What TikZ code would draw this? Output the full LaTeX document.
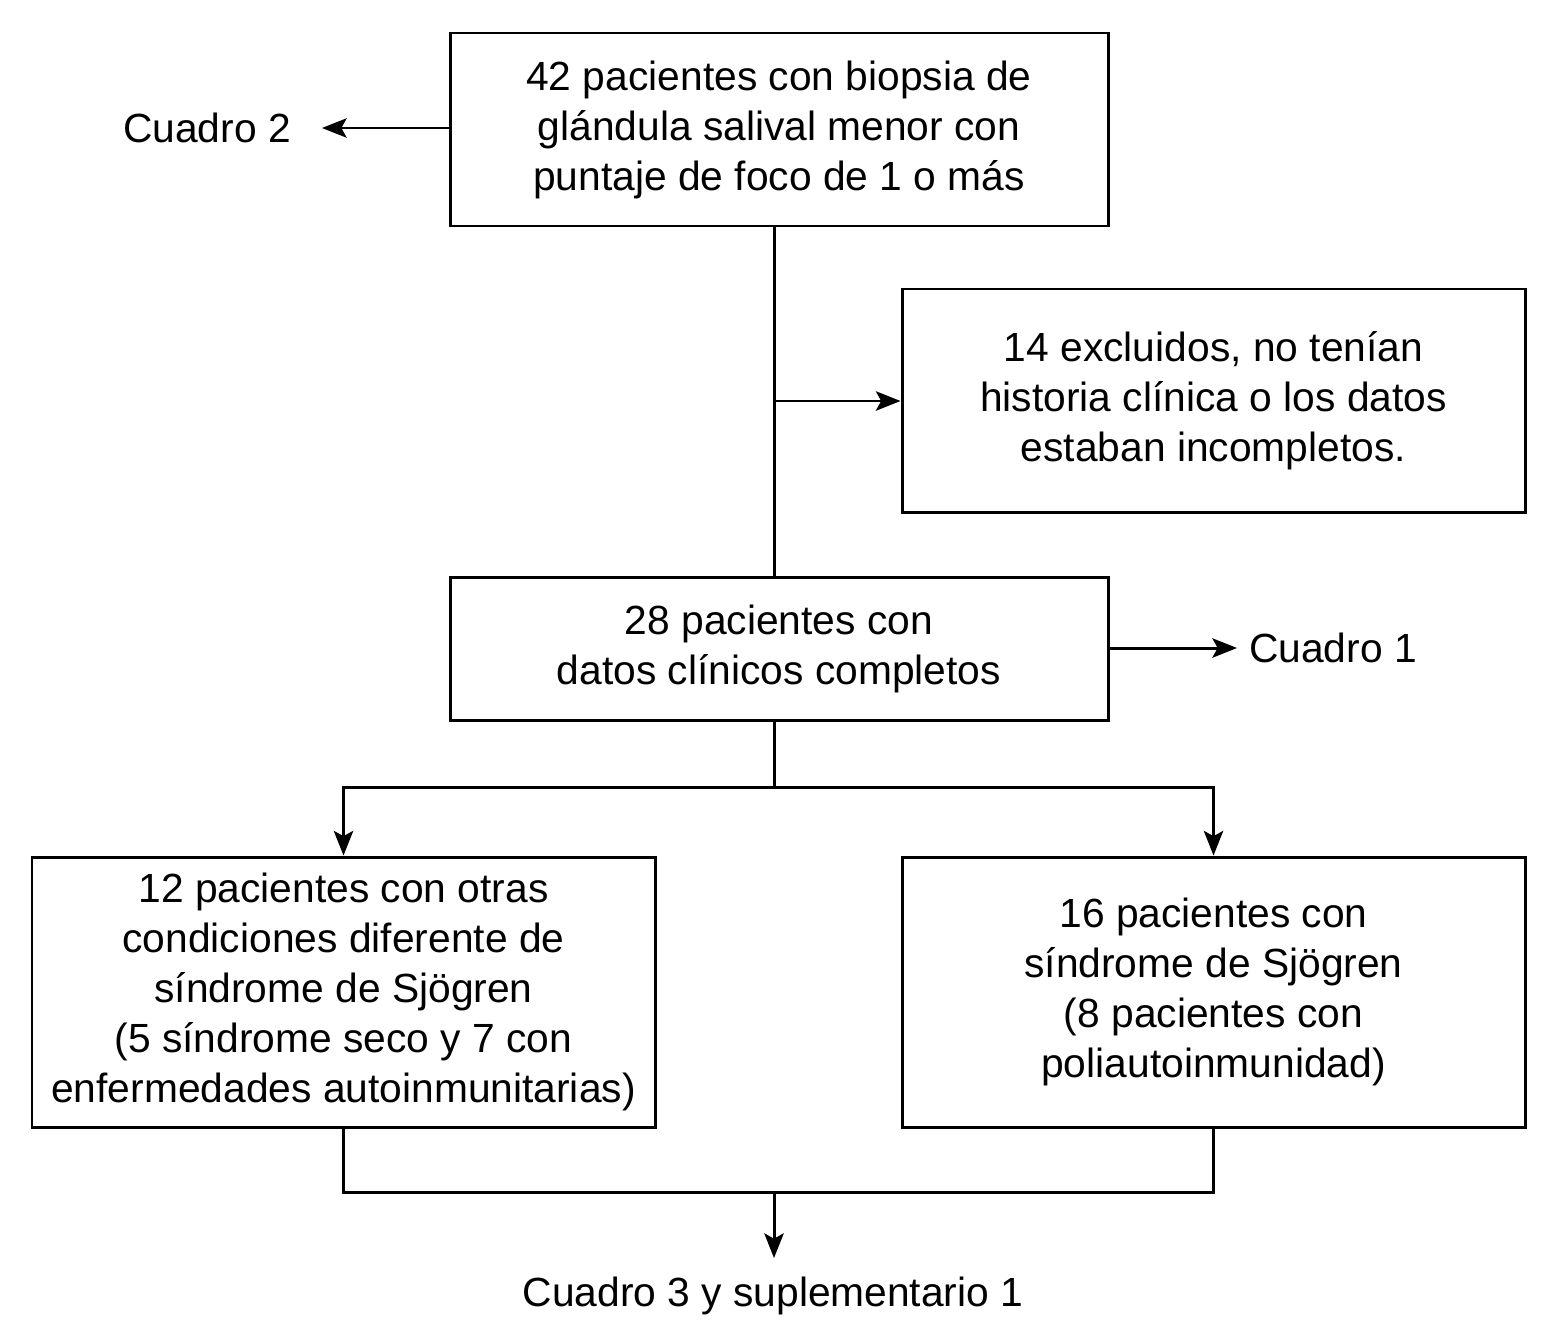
\documentclass[tikz,border=0pt]{standalone}
\usepackage{fontspec}
\setmainfont{Liberation Sans}
\usetikzlibrary{arrows.meta}
\begin{document}
\begin{tikzpicture}[x=0.02cm,y=-0.02cm,
  box/.style={draw,line width=1.7pt,align=center,inner sep=0pt,font=\fontsize{23.2}{28.45}\selectfont},
  lbl/.style={inner sep=0pt,font=\fontsize{23.2}{28.45}\selectfont},
  conn/.style={line width=1.7pt},
  arr/.style={conn,-{Stealth[length=14pt,width=11pt,inset=3pt]}}]
\useasboundingbox (0,0) rectangle (1550,1328);
\node[box,minimum width=658*0.02cm,minimum height=193*0.02cm] (top) at (779,129.5) {42 pacientes con biopsia de\\glándula salival menor con\\puntaje de foco de 1 o más};
\node[box,minimum width=623*0.02cm,minimum height=223*0.02cm] (excl) at (1213.5,400.5) {14 excluidos, no tenían\\historia clínica o los datos\\estaban incompletos.};
\node[box,minimum width=658*0.02cm,minimum height=143*0.02cm] (mid) at (779,648.5) {28 pacientes con\\datos clínicos completos};
\node[box,minimum width=623*0.02cm,minimum height=270*0.02cm] (left) at (343.5,992) {12 pacientes con otras\\condiciones diferente de\\síndrome de Sjögren\\(5 síndrome seco y 7 con\\enfermedades autoinmunitarias)};
\node[box,minimum width=623*0.02cm,minimum height=270*0.02cm] (right) at (1213.5,992) {16 pacientes con\\síndrome de Sjögren\\(8 pacientes con\\poliautoinmunidad)};
\node[lbl] (c2) at (207,128) {Cuadro 2};
\node[lbl] (c1) at (1333,648) {Cuadro 1};
\node[lbl] (c3) at (773,1296) {Cuadro 3 y suplementario 1};
\coordinate (t1) at (774,226);
\coordinate (m1) at (774,577);
\coordinate (bj) at (774,401);
\coordinate (m2) at (774,720);
\coordinate (sp) at (774,787);
\coordinate (jn) at (774,1192);
\coordinate (c3t) at (774,1258);
\draw[arr] (top.west|-c2) -- (322,128);
\draw[arr] (mid.east|-c1) -- (1237,648);
\draw[conn] (t1) -- (m1);
\draw[arr] (bj) -- (bj-|excl.west);
\draw[conn] (m2) -- (sp);
\draw[arr] (sp) -| (left.north);
\draw[arr] (sp) -| (right.north);
\draw[conn] (left.south) |- (jn) -| (right.south);
\draw[arr] (jn) -- (c3t);
\end{tikzpicture}
\end{document}
